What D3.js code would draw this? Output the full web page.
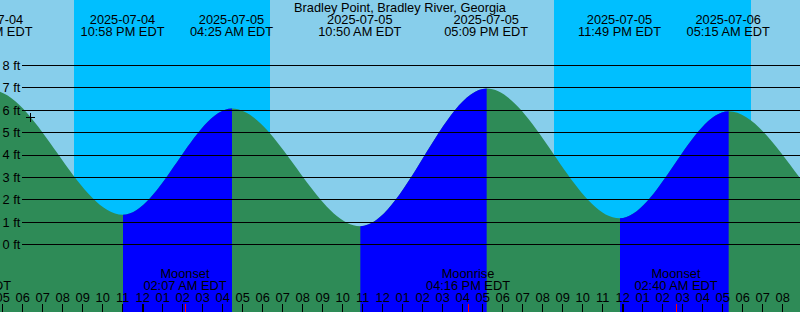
<!DOCTYPE html>
<html>
<head>
<meta charset="utf-8">
<script src="https://cdnjs.cloudflare.com/ajax/libs/d3/7.8.5/d3.min.js"></script>
<style>
    body { margin: 0; background: #87ceeb; }
    #tideGraph svg { display: block; font-family: "Liberation Sans", Arial, sans-serif; font-size: 12.8px; }
</style>
</head>
<body>
<div id="tideGraph"></div>
<script>
const title = "Bradley Point, Bradley River, Georgia";
const timeRange = ["2025-07-04 16:52", "2025-07-06 08:52"];

// highs and lows (the outer ones are off the chart, only there to shape the curve)
const tideTimes = ["2025-07-04 10:05", "2025-07-04 16:22", "2025-07-04 22:58", "2025-07-05 04:25",
    "2025-07-05 10:50", "2025-07-05 17:09", "2025-07-05 23:49", "2025-07-06 05:15",
    "2025-07-06 11:40", "2025-07-06 18:00"];
const tideHeights = [0.9, 6.9, 1.33, 6.08, 0.82, 6.97, 1.17, 5.95, 0.85, 7.1];

const nightStarts = ["2025-07-04 20:34", "2025-07-05 20:34"];
const nightEnds = ["2025-07-05 06:22", "2025-07-06 06:24"];

const moonTimes = ["2025-07-04 15:19", "2025-07-05 02:07", "2025-07-05 16:16", "2025-07-06 02:40"];
const moonEvents = ["Moonrise", "Moonset", "Moonrise", "Moonset"];

const levelTicks = [0, 1, 2, 3, 4, 5, 6, 7, 8];
const levelRange = [0, 8];

const nowTime = "2025-07-04 18:23";
const nowHeight = 5.66;

function createTideGraph(container = '#tideGraph') {

    let width = 800,
        height = 312;

    let parse = d3.timeParse("%Y-%m-%d %H:%M");
    let fmtDate = d3.timeFormat("%Y-%m-%d");
    let fmtTime = d3.timeFormat("%I:%M %p EDT");

    let svg = d3.select(container)
        .append('svg')
        .attr('width', width)
        .attr('height', height);

    let x = d3.scaleTime()
        .domain(timeRange.map(parse))
        .range([0, width]);

    let y = d3.scaleLinear()
        .domain(levelRange)
        .range([244.5, 65.5]);

    let tides = tideTimes.map((t, i) => ({date: parse(t), level: tideHeights[i]}));

    // day / night sky
    svg.append("rect")
        .attr("width", width)
        .attr("height", height)
        .attr("fill", "#87ceeb");

    svg.append("g")
        .selectAll("rect")
        .data(nightStarts)
        .enter().append("rect")
        .attr("x", d => x(parse(d)))
        .attr("y", 0)
        .attr("width", (d, i) => x(parse(nightEnds[i])) - x(parse(d)))
        .attr("height", height)
        .attr("fill", "#00bfff")
        .attr("shape-rendering", "crispEdges");

    // water: ebb in sea green, flood in blue
    let area = d3.area()
        .x(d => x(d.date))
        .y0(height)
        .y1(d => y(d.level))
        .curve(d3.curveMonotoneX);

    let rising = tides.slice(0, -1)
        .map((d, i) => ({from: d, to: tides[i + 1]}))
        .filter(s => s.to.level > s.from.level);

    // the water is drawn one pixel to the right of the hour ticks, as in the original
    let water = svg.append("g")
        .attr("transform", "translate(1,0)");

    water.append("clipPath")
        .attr("id", "floodClip")
        .selectAll("rect")
        .data(rising)
        .enter().append("rect")
        .attr("x", s => x(s.from.date))
        .attr("y", 0)
        .attr("width", s => x(s.to.date) - x(s.from.date))
        .attr("height", height);

    water.append("path")
        .datum(tides)
        .attr("d", area)
        .attr("fill", "#2e8b57");

    water.append("path")
        .datum(tides)
        .attr("d", area)
        .attr("fill", "#0000ff")
        .attr("clip-path", "url(#floodClip)");

    // level lines
    let levels = svg.append("g");

    levels.selectAll("line")
        .data(levelTicks)
        .enter().append("line")
        .attr("x1", 22)
        .attr("x2", width)
        .attr("y1", d => y(d))
        .attr("y2", d => y(d))
        .attr("stroke", "#000")
        .attr("shape-rendering", "crispEdges");

    levels.selectAll("text")
        .data(levelTicks)
        .enter().append("text")
        .attr("x", 2.5)
        .attr("y", d => y(d))
        .attr("dy", "0.35em")
        .text(d => d + " ft");

    // current time mark
    let mark = svg.append("g")
        .attr("transform", "translate(" + (x(parse(nowTime)) + 0.5) + "," + y(nowHeight) + ")")
        .attr("stroke", "#000")
        .attr("shape-rendering", "crispEdges");
    mark.append("line").attr("x1", -4.5).attr("x2", 4.5).attr("y1", 0).attr("y2", 0);
    mark.append("line").attr("x1", 0).attr("x2", 0).attr("y1", -4.5).attr("y2", 4.5);

    // title and high / low labels
    svg.append("text")
        .attr("x", width / 2)
        .attr("y", 12)
        .attr("text-anchor", "middle")
        .text(title);

    let tideLabels = svg.append("g")
        .attr("text-anchor", "middle")
        .selectAll("g")
        .data(tides)
        .enter().append("g")
        .attr("transform", d => "translate(" + (x(d.date) + 0.5) + ",0)");

    tideLabels.append("text")
        .attr("y", 24)
        .text(d => fmtDate(d.date));

    tideLabels.append("text")
        .attr("y", 36)
        .text(d => fmtTime(d.date));

    // moon labels
    let moon = moonTimes.map((t, i) => ({date: parse(t), name: moonEvents[i]}));

    let moonLabels = svg.append("g")
        .attr("text-anchor", "middle")
        .selectAll("g")
        .data(moon)
        .enter().append("g")
        .attr("transform", d => "translate(" + x(d.date) + ",0)");

    moonLabels.append("text")
        .attr("y", 278)
        .text(d => d.name);

    moonLabels.append("text")
        .attr("y", 290)
        .text(d => fmtTime(d.date));

    // hour axis
    let hours = x.ticks(d3.timeHour.every(1));

    svg.append("g")
        .attr("text-anchor", "middle")
        .selectAll("text")
        .data(hours)
        .enter().append("text")
        .attr("x", d => x(d))
        .attr("y", 302)
        .text(d3.timeFormat("%I"));

    svg.append("g")
        .selectAll("line")
        .data(hours)
        .enter().append("line")
        .attr("x1", d => x(d))
        .attr("x2", d => x(d))
        .attr("y1", 304)
        .attr("y2", height)
        .attr("stroke", "#000")
        .attr("stroke-width", d => d.getHours() === 0 ? 2 : 1)
        .attr("shape-rendering", "crispEdges");

    svg.append("g")
        .selectAll("line")
        .data(moon)
        .enter().append("line")
        .attr("x1", d => x(d.date))
        .attr("x2", d => x(d.date))
        .attr("y1", 304)
        .attr("y2", height)
        .attr("stroke", "#ff0000")
        .attr("shape-rendering", "crispEdges");
}

createTideGraph('#tideGraph');
</script>
</body>
</html>
